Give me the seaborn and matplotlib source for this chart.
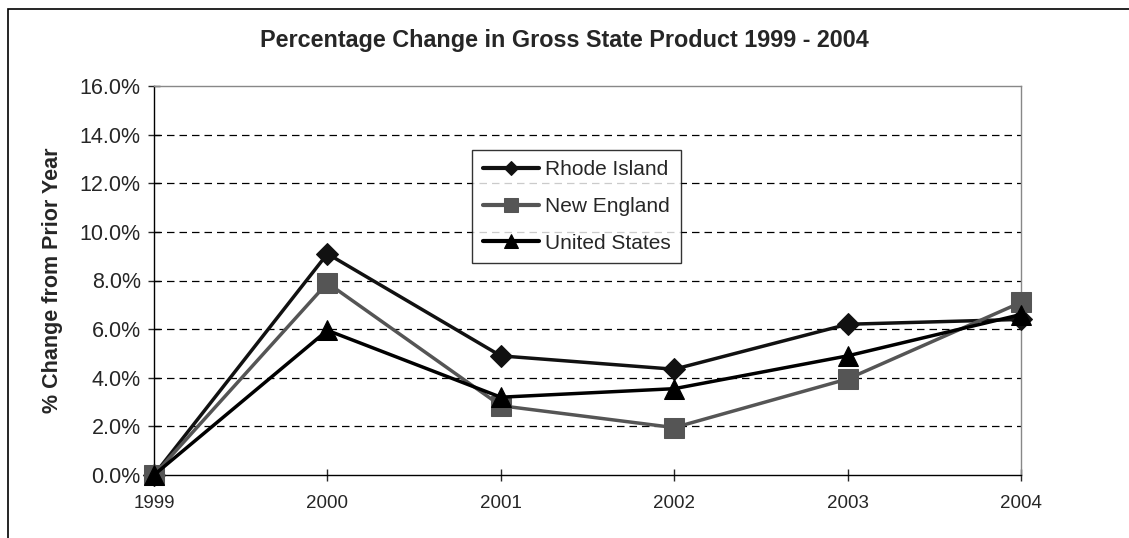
import pandas as pd
import numpy as np
import matplotlib.pyplot as plt
import seaborn as sns
from matplotlib.patches import Rectangle
from matplotlib.ticker import PercentFormatter

sns.set_style("white")
plt.rcParams["font.family"] = ["Liberation Sans", "DejaVu Sans"]

#Data
years = [1999, 2000, 2001, 2002, 2003, 2004]
rhode_island = [0.0, 9.1, 4.9, 4.35, 6.2, 6.4]
new_england = [0.0, 7.9, 2.85, 1.95, 3.95, 7.1]
united_states = [0.0, 5.95, 3.2, 3.55, 4.9, 6.6]

df = pd.DataFrame({
    "Year": years * 3,
    "Change": rhode_island + new_england + united_states,
    "Region": ["Rhode Island"] * 6 + ["New England"] * 6 + ["United States"] * 6,
})

fig = plt.figure(figsize=(11.29, 5.38), dpi=100)
ax = fig.add_axes([154 / 1129, 1 - 475 / 538, (1021 - 154) / 1129, (475 - 86) / 538])

#Figure frame (cut off at right and bottom)
fig.patches.append(Rectangle((8 / 1129, -0.1), 1.2, 1 - 9 / 538 + 0.1,
                             transform=fig.transFigure, fill=False,
                             edgecolor="black", linewidth=1.2))

styles = {
    "Rhode Island": dict(color="#111111", marker="D", markersize=11.5, legend_ms=7),
    "New England": dict(color="#555555", marker="s", markersize=15, legend_ms=10),
    "United States": dict(color="#000000", marker="^", markersize=15, legend_ms=10),
}
for region, st in styles.items():
    sns.lineplot(data=df[df["Region"] == region], x="Year", y="Change", ax=ax,
                 color=st["color"], marker=st["marker"], markersize=st["markersize"],
                 markeredgecolor=st["color"], linewidth=2.5, label=region,
                 clip_on=False, zorder=3)

ax.set_xlim(1999, 2004)
ax.set_ylim(0, 16)
ax.set_xticks(years)
ax.set_xticklabels([str(y) for y in years])
ax.set_yticks(np.arange(0, 17, 2))
ax.yaxis.set_major_formatter(PercentFormatter(decimals=1))
for yv in np.arange(2, 16, 2):
    ax.axhline(yv, color="black", linestyle=(0, (6, 4)), linewidth=0.9, zorder=1)

ax.tick_params(axis="x", direction="inout", length=9, width=1, labelsize=13.5, pad=10)
ax.tick_params(axis="y", direction="inout", length=9, width=1, labelsize=15.5, pad=5)
ax.tick_params(left=True, bottom=True)

for side in ["left", "bottom"]:
    ax.spines[side].set_color("black")
    ax.spines[side].set_linewidth(1)
for side in ["top", "right"]:
    ax.spines[side].set_color("#888888")
    ax.spines[side].set_linewidth(1)

ax.set_xlabel("")
ax.set_ylabel("% Change from Prior Year", fontsize=15.5, fontweight="bold", labelpad=12)
fig.text(0.5, 1 - 41 / 538, "Percentage Change in Gross State Product 1999 - 2004",
         ha="center", va="center", fontsize=16.8, fontweight="bold")

leg = ax.legend(loc="upper left", bbox_to_anchor=(0.367, 0.836), frameon=True,
                fancybox=False, edgecolor="black", fontsize=15, handlelength=2.7,
                borderpad=0.5, labelspacing=0.85, handletextpad=0.3, borderaxespad=0)
leg.get_frame().set_linewidth(1)
for h, st in zip(leg.legend_handles, styles.values()):
    h.set_markersize(st["legend_ms"])
    h.set_linewidth(3)

fig.savefig("out.png", dpi=100)
